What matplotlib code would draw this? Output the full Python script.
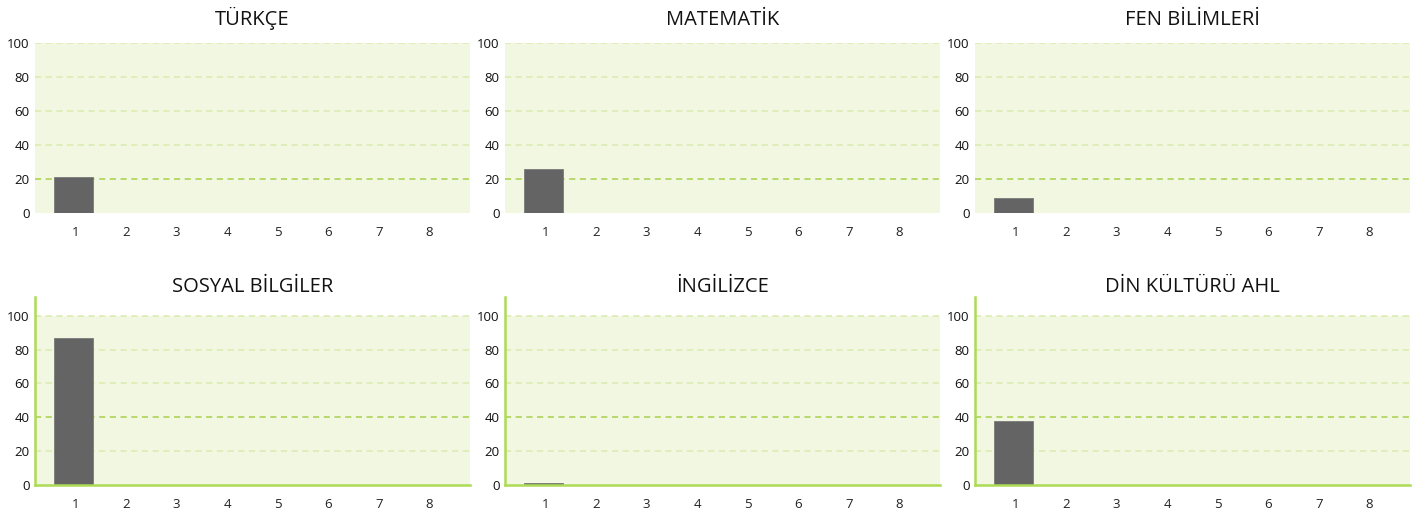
import matplotlib.pyplot as plt

# Data
subjects = ["TÜRKÇE", "MATEMATİK", "FEN BİLİMLERİ",
            "SOSYAL BİLGİLER", "İNGİLİZCE", "DİN KÜLTÜRÜ AHL"]
exam_numbers = [1, 2, 3, 4, 5, 6, 7, 8]
scores = [
    [21, 0, 0, 0, 0, 0, 0, 0],
    [26, 0, 0, 0, 0, 0, 0, 0],
    [9, 0, 0, 0, 0, 0, 0, 0],
    [87, 0, 0, 0, 0, 0, 0, 0],
    [1, 0, 0, 0, 0, 0, 0, 0],
    [38, 0, 0, 0, 0, 0, 0, 0],
]
highlight_levels = [20, 20, 20, 40, 40, 40]
y_ticks = [0, 20, 40, 60, 80, 100]

BG = "#f1f7e1"
GRID = "#d9eaae"
GRID_DARK = "#a9d04c"
SPINE = "#addb55"
BAR = "#646464"

plt.rcParams["font.family"] = ["Open Sans", "DejaVu Sans"]

W, H = 1416, 521
fig = plt.figure(figsize=(W / 100, H / 100), dpi=100)

col_left = [35, 505, 975]
col_width = 435


def make_axes(i):
    row, col = divmod(i, 3)
    left = col_left[col] / W
    if row == 0:
        top_px, bottom_px = 43, 213
    else:
        top_px, bottom_px = 297, 485
    return fig.add_axes([left, 1 - bottom_px / H, col_width / W,
                         (bottom_px - top_px) / H])


for i, subject in enumerate(subjects):
    ax = make_axes(i)
    row = i // 3

    if row == 0:
        ax.set_ylim(0, 100)
        ax.set_facecolor(BG)
        for s in ax.spines.values():
            s.set_visible(False)
    else:
        ax.set_ylim(0, 111)
        ax.set_facecolor("white")
        ax.axhspan(0, 100, color=BG, zorder=0, lw=0)
        for name in ["top", "right"]:
            ax.spines[name].set_visible(False)
        for name in ["left", "bottom"]:
            ax.spines[name].set_color(SPINE)
            ax.spines[name].set_linewidth(1.8)
            ax.spines[name].set_zorder(4)

    ax.set_xlim(0.2, 8.8)

    for lvl in y_ticks[1:]:
        dark = lvl == highlight_levels[i]
        ax.axhline(lvl, color=GRID_DARK if dark else GRID, lw=1.1,
                   ls=(0, (4, 3)), zorder=1)

    # bars sit a touch left of the tick in the original
    ax.bar([x - 0.04 for x in exam_numbers], scores[i], width=0.77,
           color=BAR, edgecolor="#7a7a7a", linewidth=0.6, zorder=3)

    ax.set_xticks(exam_numbers)
    ax.set_yticks(y_ticks)
    ax.tick_params(axis="both", length=0, labelsize=9.5, colors="#111111")
    ax.tick_params(axis="x", pad=9, colors="#222222")
    ax.tick_params(axis="y", pad=4)

    ax.set_title(subject, fontsize=14.5, color="#111111",
                 pad=13 if row == 0 else 2)

fig.savefig("out.png", dpi=100)
